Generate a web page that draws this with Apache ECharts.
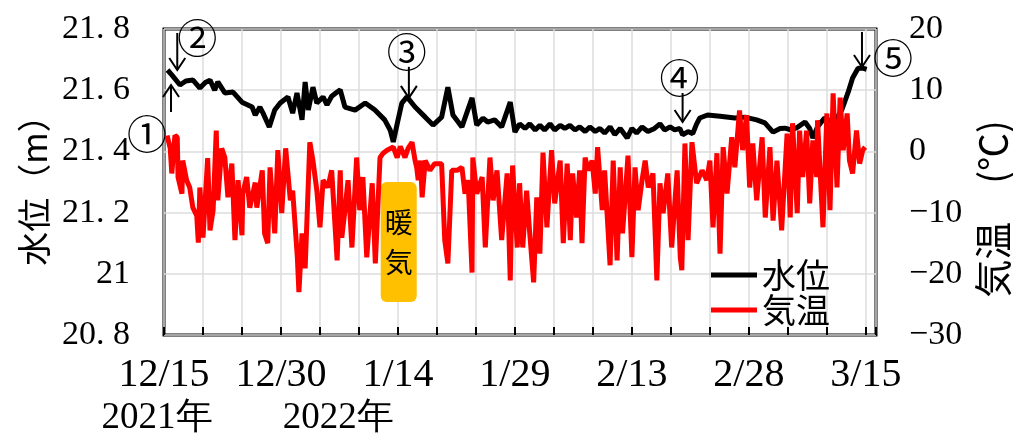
<!DOCTYPE html>
<html>
<head>
<meta charset="utf-8">
<script src="https://cdn.jsdelivr.net/npm/echarts@6/dist/echarts.min.js"></script>
<style>
html,body{margin:0;padding:0;background:#fff;}
#main{width:1013px;height:435px;}
</style>
</head>
<body>
<div id="main"></div>
<script>
// 日数は 2021/12/15 0時 からの経過日
var wlDays = [0.45,1.0,2.05,2.8,3.72,4.6,5.3,5.9,6.5,6.9,7.8,8.85,10.0,11.3,11.7,12.3,12.7,13.5,14.2,14.9,
  15.9,16.5,17.05,17.7,18.1,18.5,19.1,19.6,20.4,20.9,21.5,22.2,22.6,23.2,24.5,25.8,27.05,28.3,29.0,29.4,
  29.9,30.5,31.15,32.2,33.5,34.5,35.6,36.4,37.05,38.2,39.5,40.1,40.9,41.5,42.4,43.3,44.4,45.0,45.6,46.3,
  46.9,47.6,48.2,48.8,49.5,50.1,50.8,51.4,52.05,52.7,53.3,54.0,54.6,55.3,55.9,56.5,57.2,57.8,58.5,59.4,
  60.0,60.6,61.3,62.05,62.9,63.6,64.2,64.9,65.5,66.15,66.5,67.2,67.8,68.3,68.7,69.7,71.3,73.2,74.5,76.0,
  77.05,78.1,79.0,79.6,80.5,81.3,82.2,82.8,83.2,83.8,84.7,85.4,86.0,86.9,87.7,88.3,89.0,89.6,90.1];
var wlVals = [21.666,21.65,21.617,21.63,21.633,21.607,21.625,21.633,21.60,21.627,21.591,21.594,21.561,21.545,21.519,21.545,21.525,21.48,21.535,21.558,
  21.578,21.525,21.591,21.503,21.627,21.535,21.61,21.558,21.578,21.552,21.58,21.594,21.601,21.545,21.535,21.558,21.535,21.503,21.47,21.431,
  21.49,21.558,21.578,21.545,21.512,21.486,21.512,21.61,21.519,21.48,21.575,21.486,21.509,21.496,21.503,21.48,21.561,21.463,21.49,21.475,
  21.49,21.47,21.485,21.47,21.49,21.47,21.485,21.475,21.485,21.47,21.48,21.465,21.48,21.465,21.475,21.46,21.48,21.455,21.475,21.444,
  21.475,21.46,21.48,21.465,21.475,21.49,21.47,21.48,21.47,21.475,21.454,21.465,21.458,21.49,21.509,21.519,21.515,21.509,21.512,21.503,
  21.493,21.463,21.475,21.476,21.47,21.48,21.496,21.475,21.444,21.48,21.509,21.50,21.496,21.535,21.591,21.64,21.672,21.672,21.668];

var taDays = [0.4,0.8,1.0,1.4,1.7,1.8,2.3,2.4,2.9,3.3,3.7,4.2,4.4,4.6,5.0,5.6,5.9,6.3,6.7,6.9,
  7.4,7.8,8.2,8.7,9.1,9.5,10.0,10.1,10.6,11.0,11.7,11.9,12.6,12.9,13.3,13.6,14.2,14.6,15.1,15.6,
  16.2,16.5,17.1,17.3,17.7,18.1,18.7,19.1,19.6,20.0,20.4,21.0,21.5,22.2,22.6,22.8,23.2,23.6,24.1,24.7,
  25.1,25.5,26.0,26.7,27.1,27.7,28.1,28.6,29.4,29.9,30.3,30.9,31.3,31.8,32.2,32.4,32.6,32.9,33.1,33.5,
  34.1,34.7,35.6,36.0,36.4,36.9,37.6,38.2,38.6,39.0,39.5,39.6,40.1,40.8,41.2,41.8,42.2,42.7,43.3,44.0,
  44.4,44.7,45.3,45.6,46.0,46.5,46.9,47.4,47.8,48.2,48.6,49.1,49.7,50.1,50.8,51.2,51.7,52.1,52.4,52.9,
  53.3,53.6,54.0,54.4,54.9,55.3,55.6,56.2,56.5,57.2,57.6,58.1,58.5,58.8,59.5,60.0,60.4,60.8,61.3,61.7,
  62.1,62.7,63.2,63.6,64.0,64.6,65.1,65.8,66.2,66.4,66.8,67.2,67.7,68.3,69.0,69.6,70.0,70.4,70.9,71.3,
  71.7,72.2,72.8,73.2,73.8,74.2,74.7,75.1,75.5,76.0,76.7,77.1,77.7,78.1,78.6,79.2,79.9,80.3,80.6,81.2,
  81.5,81.9,82.4,82.8,83.2,83.7,83.8,84.5,85.0,85.4,85.8,86.3,86.7,87.1,87.6,87.9,88.3,88.8,89.2,89.6,89.9];
var taVals = [2.6,0.5,-3.6,2.6,2.3,-4.2,-6.9,-1.5,-4.7,-5.9,-9.2,-10.5,-14.9,-5.9,-14.1,-1.1,-12.9,-9.6,3.4,-8.0,
  0.5,-1.0,-7.5,-2.0,-14.5,-4.7,-13.7,-6.9,-4.2,-9.2,-5.1,-9.2,-3.1,-13.4,-15.0,-2.6,-13.4,0.2,-10.1,0.5,
  -8.0,-6.4,-17.3,-23.0,-13.4,-19.1,1.5,-1.5,-6.4,-12.4,-4.7,-5.9,-3.1,-17.8,-3.1,-14.1,-9.6,-4.7,-15.7,-1.0,
  -9.6,-4.2,-17.3,-5.2,-18.3,-1.0,-0.3,0.2,0.7,-1.0,0.8,-1.0,0.5,1.5,-1.5,-2.6,-4.7,-1.5,-7.5,-1.5,
  -3.1,-2.0,-2.0,-14.5,-18.3,-3.1,-3.1,-2.6,-6.9,-4.7,-19.8,-1.0,-6.9,-4.2,-15.7,-1.0,-8.0,-3.1,-14.5,-3.6,
  -21.1,-2.3,-15.7,-5.2,-15.7,-6.4,-13.4,-21.4,-7.5,-16.7,-0.2,-12.4,0.2,-8.5,-1.5,-15.0,-2.0,-14.5,-3.6,-10.8,
  -3.1,-15.0,-1.0,-3.1,-1.5,-6.9,0.7,-9.6,-3.1,-18.6,-1.5,-17.8,-2.6,-13.4,-0.7,-17.3,-2.6,-9.6,-4.7,-1.5,
  -5.9,-3.6,-21.1,-5.2,-10.1,-3.6,-15.7,-3.1,-17.3,-19.4,1.3,-14.5,1.5,-5.2,-3.1,-4.7,-1.5,-12.4,-0.3,-16.7,
  0.7,-6.9,2.3,-2.6,6.7,0.2,5.9,-5.9,1.3,-8.0,2.3,-10.8,0.7,-11.3,-1.5,-12.9,2.9,-10.8,4.6,-10.1,
  3.4,-4.2,3.4,-8.5,1.8,-4.2,5.1,-12.4,6.2,-9.6,9.5,-5.9,8.8,0.2,6.2,-1.5,-3.6,3.4,-2.0,0.2,0.7];

var xTickDays = [0,15,30,45,60,75,90];
var xTickLabels = ['12/15','12/30','1/14','1/29','2/13','2/28','3/15'];

// 注記（矢印の先端の位置）
var annoLabels = ['①','②','③','④','⑤'];
var annoDays = [0.9, 1.7, 31.4, 66.5, 89.5];
var annoLevels = [21.617, 21.666, 21.575, 21.496, 21.676];
var annoDir = ['up','down','down','down','down'];
var annoLen = [27, 37, 31, 29, 35];
var annoOff = [[-24,49],[20,-32],[-2,-46],[-3,-44],[31,-9]];
var warmDay = 30.1;

var serif = "'Liberation Serif','DejaVu Serif',serif";
var jp = "'Noto Sans CJK JP','Noto Sans',sans-serif";

function pairs(xs, ys) {
  var out = [];
  for (var i = 0; i < xs.length; i++) out.push([xs[i], ys[i]]);
  return out;
}

var myChart = echarts.init(document.getElementById('main'));
var option = {
  animation: false,
  grid: {
    left: 164, right: 137, top: 29, bottom: 100,
    show: true, borderColor: '#000', borderWidth: 3, backgroundColor: 'transparent'
  },
  legend: {
    data: [{name: '水位', icon: 'rect'}, {name: '気温', icon: 'rect'}],
    orient: 'vertical',
    left: 706, top: 253,
    itemWidth: 46, itemHeight: 5, itemGap: 1,
    textStyle: {fontSize: 34, fontFamily: jp, color: '#000', lineHeight: 34}
  },
  xAxis: {
    type: 'value', min: 0, max: 91.3, interval: 5,
    axisLine: {show: false, onZero: false},
    axisTick: {show: true, inside: true, length: 8, lineStyle: {color: '#000', width: 2}},
    splitLine: {show: true, lineStyle: {color: '#dcdcdc', width: 1.5}},
    axisLabel: {
      margin: 20, fontSize: 40, fontFamily: serif, color: '#000',
      formatter: function (v) {
        var i = xTickDays.indexOf(Math.round(v));
        return (i >= 0 && Math.abs(v - Math.round(v)) < 0.01) ? xTickLabels[i] : '';
      }
    }
  },
  yAxis: [{
    type: 'value', min: 20.8, max: 21.8, interval: 0.2,
    name: '水位（m）', nameLocation: 'middle', nameRotate: 90, nameGap: 113,
    nameTextStyle: {fontSize: 34, fontFamily: jp, color: '#000'},
    axisLine: {show: false}, axisTick: {show: false},
    splitLine: {show: true, lineStyle: {color: '#dcdcdc', width: 1.5}},
    axisLabel: {
      margin: 34, fontSize: 34, fontFamily: serif, color: '#000',
      formatter: function (v) {
        var r = Math.round(v * 10) / 10;
        return (r % 1 === 0) ? String(r) : r.toFixed(1).replace('.', '. ');
      }
    }
  }, {
    type: 'value', min: -30, max: 20, interval: 10, position: 'right',
    axisLine: {show: false}, axisTick: {show: false}, splitLine: {show: false},
    axisLabel: {
      margin: 33, fontSize: 34, fontFamily: serif, color: '#000',
      formatter: function (v) { return String(v).replace('-', '−'); }
    }
  }],
  series: [{
    name: '水位', type: 'line', yAxisIndex: 0, symbol: 'none', showSymbol: false,
    data: pairs(wlDays, wlVals),
    lineStyle: {color: '#000', width: 5}, itemStyle: {color: '#000'}
  }, {
    name: '気温', type: 'line', yAxisIndex: 1, symbol: 'none', showSymbol: false,
    data: pairs(taDays, taVals),
    lineStyle: {color: '#ff0000', width: 5}, itemStyle: {color: '#ff0000'}
  }]
};
myChart.setOption(option);

// 注記・年ラベル・暖気ボックス・右軸名
var g = [];
for (var i = 0; i < annoLabels.length; i++) {
  var p = myChart.convertToPixel({gridIndex: 0}, [annoDays[i], annoLevels[i]]);
  var s = annoDir[i] === 'up' ? 1 : -1;   // 尾の方向
  var tailY = p[1] + s * annoLen[i];
  g.push({type: 'line', shape: {x1: p[0], y1: p[1], x2: p[0], y2: tailY}, style: {stroke: '#000', lineWidth: 2}});
  g.push({type: 'polyline', shape: {points: [[p[0] - 8, p[1] + s * 12], [p[0], p[1]], [p[0] + 8, p[1] + s * 12]]},
    style: {stroke: '#000', lineWidth: 2, fill: null}});
  g.push({type: 'text', x: p[0] + annoOff[i][0], y: p[1] + annoOff[i][1],
    style: {text: annoLabels[i], fontSize: 40, fontFamily: jp, fill: '#000', align: 'center', verticalAlign: 'middle'}});
}
var wp = myChart.convertToPixel({gridIndex: 0}, [warmDay, 21.2]);
g.push({type: 'rect', shape: {x: wp[0] - 18, y: 182, width: 36, height: 120, r: 6}, style: {fill: '#ffc000'}});
g.push({type: 'text', x: wp[0], y: 242,
  style: {text: '暖\n気', fontSize: 28, lineHeight: 40, fontFamily: jp, fill: '#000', align: 'center', verticalAlign: 'middle'}});
var y0 = myChart.convertToPixel({gridIndex: 0}, [0, 21]);
var y1 = myChart.convertToPixel({gridIndex: 0}, [23, 21]);
g.push({type: 'text', x: y0[0] - 7, y: 418, style: {text: '2021年', fontSize: 37, fontFamily: serif, fill: '#000', align: 'center', verticalAlign: 'middle'}});
g.push({type: 'text', x: y1[0] - 5, y: 418, style: {text: '2022年', fontSize: 37, fontFamily: serif, fill: '#000', align: 'center', verticalAlign: 'middle'}});
g.push({type: 'text', x: 993, y: 209, rotation: Math.PI / 2,
  style: {text: '気温　(℃)', fontSize: 38, fontFamily: jp, fill: '#000', align: 'center', verticalAlign: 'middle'}});
myChart.setOption({graphic: g});
</script>
</body>
</html>
